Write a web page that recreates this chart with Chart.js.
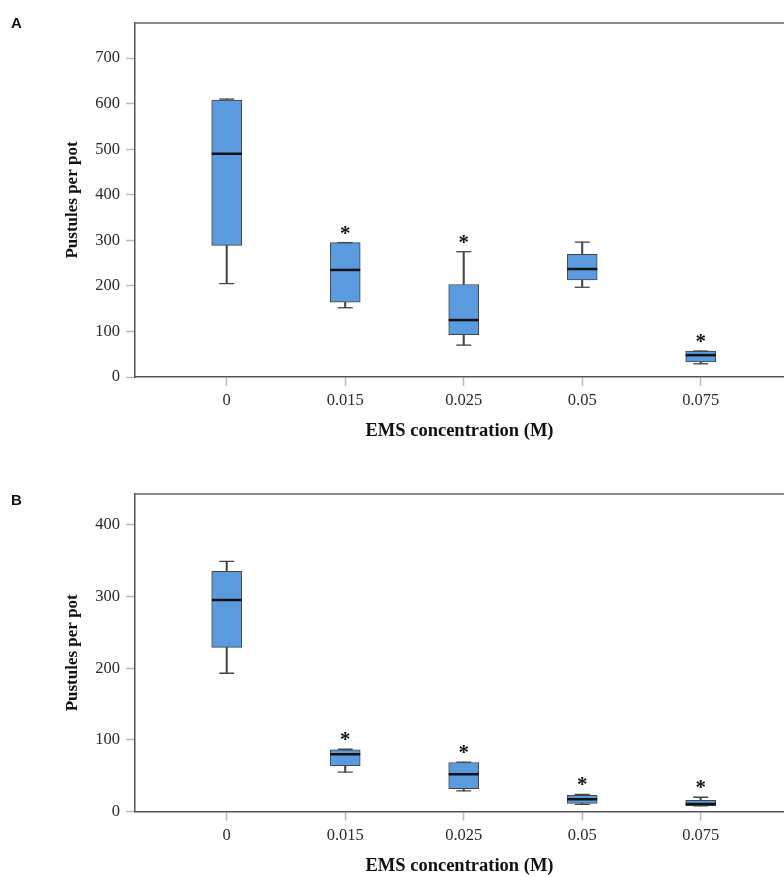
<!DOCTYPE html>
<html>
<head>
<meta charset="utf-8">
<script src="https://cdn.jsdelivr.net/npm/chart.js@4/dist/chart.umd.min.js"></script>
<style>
  body { margin: 0; background: #fff; }
  canvas { display: block; }
</style>
</head>
<body>
<canvas id="chartA" width="784" height="448"></canvas>
<canvas id="chartB" width="784" height="429"></canvas>
<script>
// EMS concentrations on the x axis
const concLabels = ['0', '0.015', '0.025', '0.05', '0.075'];

// Panel A box plot values (min, q1, median, q3, max)
const minA = [205, 152, 70, 197, 29];
const q1A = [289, 164, 93, 213, 33];
const medA = [490, 235, 125, 237, 48];
const q3A = [608, 295, 203, 269, 57];
const maxA = [610, 295, 275, 296, 57];
const sigA = [false, true, true, false, true];
const yTicksA = [0, 100, 200, 300, 400, 500, 600, 700];

// Panel B box plot values
const minB = [193, 55, 29, 10, 8];
const q1B = [229, 64, 32, 11.5, 8.3];
const medB = [295, 80, 52, 17.4, 10.5];
const q3B = [335, 86, 68.5, 22.6, 15.6];
const maxB = [349, 87, 69, 24, 20];
const sigB = [false, true, true, true, true];
const yTicksB = [0, 100, 200, 300, 400];

const serif = '"Liberation Serif", "Times New Roman", serif';
const lineCol = '#454545';

// top border, asterisks and panel letter
const extrasPlugin = {
  id: 'extras',
  afterDatasetsDraw(chart, args, opts) {
    const { ctx, chartArea, scales } = chart;
    ctx.save();
    ctx.strokeStyle = '#666';
    ctx.lineWidth = 1.5;
    ctx.beginPath();
    ctx.moveTo(chartArea.left, chartArea.top);
    ctx.lineTo(chart.width, chartArea.top);
    ctx.stroke();

    ctx.fillStyle = '#111';
    ctx.font = 'bold 21px ' + serif;
    ctx.textAlign = 'center';
    opts.sig.forEach((s, i) => {
      if (!s) return;
      ctx.fillText('*', scales.x.getPixelForValue(i), scales.y.getPixelForValue(opts.hi[i]) - 3);
    });

    ctx.font = 'bold 15px "Liberation Sans", Arial, sans-serif';
    ctx.textAlign = 'left';
    ctx.fillText(opts.letter, 11, opts.letterY);
    ctx.restore();
  }
};

function pts(vals) {
  return vals.map((v, i) => ({ x: i, y: v }));
}

function makeBoxChart(id, letter, letterY, lo, q1, med, q3, hi, sig, yMax, yTicks, top, bottom, titlePad) {
  const canvas = document.getElementById(id);
  const stems = [];
  const caps = [];
  for (let i = 0; i < lo.length; i++) {
    stems.push({ x: i, y: [lo[i], q1[i]] });
    stems.push({ x: i, y: [q3[i], hi[i]] });
    caps.push({ x: i, y: lo[i] });
    caps.push({ x: i, y: hi[i] });
  }

  return new Chart(canvas, {
    type: 'bar',
    data: {
      datasets: [
        {
          type: 'scatter',
          data: pts(med),
          pointStyle: 'line',
          pointRadius: 15,
          pointHoverRadius: 15,
          pointBorderWidth: 2.5,
          pointBorderColor: '#111',
        },
        {
          type: 'scatter',
          data: caps,
          pointStyle: 'line',
          pointRadius: 7.5,
          pointHoverRadius: 7.5,
          pointBorderWidth: 1.3,
          pointBorderColor: lineCol,
        },
        {
          type: 'bar',
          data: q1.map((v, i) => ({ x: i, y: [v, q3[i]] })),
          backgroundColor: '#5a9bdf',
          borderColor: lineCol,
          borderWidth: 1,
          borderSkipped: false,
          barThickness: 30,
          grouped: false,
        },
        {
          type: 'bar',
          data: stems,
          backgroundColor: lineCol,
          borderWidth: 0,
          barThickness: 1.4,
          grouped: false,
        },
      ],
    },
    options: {
      responsive: false,
      animation: false,
      layout: { autoPadding: false, padding: { top: top, left: 0, right: 0, bottom: 0 } },
      plugins: {
        legend: { display: false },
        tooltip: { enabled: false },
        extras: { sig: sig, hi: hi, letter: letter, letterY: letterY },
      },
      scales: {
        x: {
          type: 'linear',
          min: -0.774,
          max: 4.703,
          offset: false,
          afterBuildTicks: (axis) => { axis.ticks = concLabels.map((_, i) => ({ value: i })); },
          afterFit: (axis) => { axis.height = bottom; },
          ticks: {
            callback: (v) => concLabels[v],
            font: { family: serif, size: 16.5 },
            color: '#2a2a2a',
            padding: 5,
            maxRotation: 0,
          },
          grid: { offset: false, drawOnChartArea: false, tickLength: 9, tickColor: '#bbb', tickWidth: 1.5 },
          border: { color: '#555', width: 1.5 },
          title: {
            display: true,
            text: 'EMS concentration (M)',
            font: { family: serif, size: 18.5, weight: 'bold', lineHeight: 1 },
            color: '#111',
            padding: { top: 0, bottom: titlePad },
          },
        },
        y: {
          min: 0,
          max: yMax,
          afterBuildTicks: (axis) => { axis.ticks = yTicks.map(v => ({ value: v })); },
          afterFit: (axis) => { axis.width = 135; },
          ticks: {
            font: { family: serif, size: 16.5 },
            color: '#2a2a2a',
            padding: 6,
          },
          grid: { drawOnChartArea: false, tickLength: 9, tickColor: '#bbb', tickWidth: 1.5 },
          border: { color: '#555', width: 1.5 },
          title: {
            display: true,
            text: 'Pustules per pot',
            font: { family: serif, size: 17, weight: 'bold', lineHeight: 1 },
            color: '#111',
            padding: { top: 64.5, bottom: 0 },
          },
        },
      },
    },
    plugins: [extrasPlugin],
  });
}

makeBoxChart('chartA', 'A', 28, minA, q1A, medA, q3A, maxA, sigA, 777, yTicksA, 23, 448 - 377, 7.5);
makeBoxChart('chartB', 'B', 57, minB, q1B, medB, q3B, maxB, sigB, 443, yTicksB, 46, 429 - 363.6, 1.2);
</script>
</body>
</html>
